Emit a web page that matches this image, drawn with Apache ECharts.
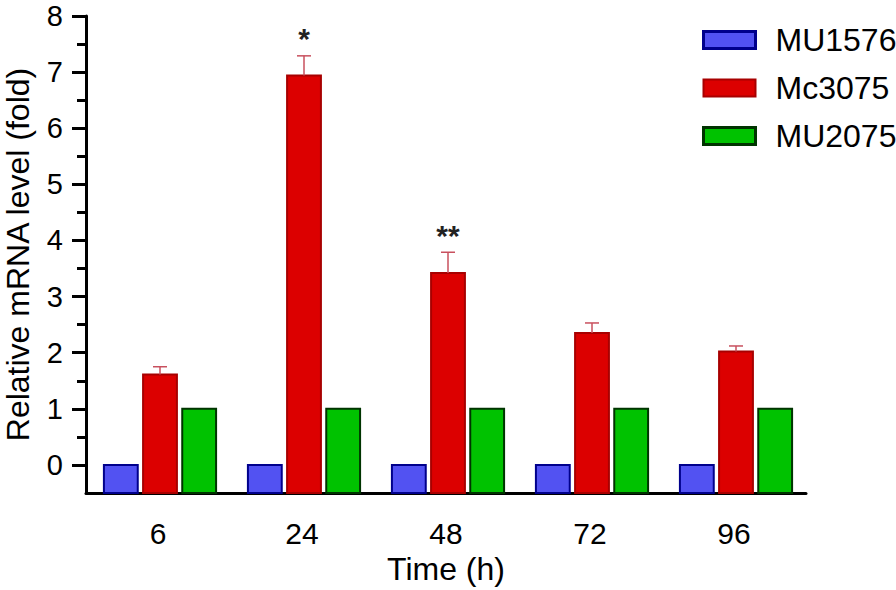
<!DOCTYPE html>
<html>
<head>
<meta charset="utf-8">
<script src="https://cdn.jsdelivr.net/npm/echarts@6/dist/echarts.min.js"></script>
<style>
  html, body { margin: 0; padding: 0; background: #fff; }
  #chart { width: 896px; height: 590px; }
</style>
</head>
<body>
<div id="chart"></div>
<script>
// ====== Relative mRNA level over time ======
var times = ['6', '24', '48', '72', '96'];
var mu1576 = [0, 0, 0, 0, 0];
var mc3075 = [1.61, 6.94, 3.42, 2.35, 2.02];
var mc3075Err = [0.14, 0.35, 0.37, 0.18, 0.10];
var mu2075 = [1, 1, 1, 1, 1];
var marks = ['', '*', '**', '', ''];

var yTicks = [0, 1, 2, 3, 4, 5, 6, 7, 8];
var yMinorTicks = [0.5, 1.5, 2.5, 3.5, 4.5, 5.5, 6.5, 7.5];

(function() {
  var font = "'Liberation Sans', Arial, sans-serif";
  var yMin = -0.5, yMax = 8;
  var chart = echarts.init(document.getElementById('chart'), null, { renderer: 'svg' });

  // bars start at the bottom of the axis (yMin), not at 0
  function barRender(slot, fill, stroke) {
    return function(params, api) {
      var x = api.value(0);
      var top = api.coord([x, api.value(1)]);
      var base = api.coord([x, yMin]);
      var band = api.size([1, 0])[0];
      var w = band * 0.235;
      var cx = top[0] + 2 + slot * band * 0.272;
      return {
        type: 'rect',
        shape: { x: cx - w / 2, y: top[1], width: w, height: base[1] - top[1] },
        style: { fill: fill, stroke: stroke, lineWidth: 2 }
      };
    };
  }

  function errRender(params, api) {
    var i = params.dataIndex;
    var x = api.value(0);
    var lo = api.coord([x, api.value(1)]);
    var hi = api.coord([x, api.value(1) + api.value(2)]);
    var cx = lo[0] + 2;
    var cap = 7;
    var children = [
      { type: 'line', shape: { x1: cx, y1: lo[1], x2: cx, y2: hi[1] },
        style: { stroke: '#c8505e', lineWidth: 1.5 } },
      { type: 'line', shape: { x1: cx - cap, y1: hi[1], x2: cx + cap, y2: hi[1] },
        style: { stroke: '#c8505e', lineWidth: 1.5 } }
    ];
    if (marks[i]) {
      children.push({
        type: 'text',
        style: {
          x: cx, y: hi[1] - 2, text: marks[i],
          fill: '#222', font: 'bold 30px ' + font,
          textAlign: 'center', textVerticalAlign: 'bottom'
        }
      });
    }
    return { type: 'group', children: children };
  }

  function toData(arr) {
    return arr.map(function(v, i) { return [i, v]; });
  }

  var colors = {
    blue: { fill: '#5252f2', stroke: '#00008c' },
    red: { fill: '#dc0000', stroke: '#a80000' },
    green: { fill: '#00c200', stroke: '#003400' }
  };

  chart.setOption({
    animation: false,
    textStyle: { fontFamily: font },
    legend: {
      orient: 'vertical',
      left: 697, top: 19,
      itemWidth: 52, itemHeight: 17,
      itemGap: 16,
      icon: 'rect',
      textStyle: { color: '#000', fontSize: 32, fontFamily: font, padding: [0, 0, 0, 15] },
      data: [
        { name: 'MU1576', itemStyle: { color: colors.blue.fill, borderColor: colors.blue.stroke, borderWidth: 3 } },
        { name: 'Mc3075', itemStyle: { color: colors.red.fill, borderColor: colors.red.stroke, borderWidth: 2 } },
        { name: 'MU2075', itemStyle: { color: colors.green.fill, borderColor: colors.green.stroke, borderWidth: 3 } }
      ]
    },
    grid: { left: 86, right: 90, top: 16, bottom: 97, containLabel: false, outerBoundsMode: 'none' },
    xAxis: {
      type: 'category',
      data: times,
      name: 'Time (h)',
      nameLocation: 'middle',
      nameGap: 60,
      nameTextStyle: { color: '#000', fontSize: 32, fontFamily: font },
      axisLine: { onZero: false, lineStyle: { color: '#000', width: 3 } },
      axisTick: { alignWithLabel: true, length: 20, lineStyle: { color: '#000', width: 3 } },
      axisLabel: { color: '#000', fontSize: 30, fontFamily: font, margin: 25 }
    },
    yAxis: [
      {
        type: 'value',
        min: yMin, max: yMax, interval: 0.5,
        name: 'Relative mRNA level (fold)',
        nameLocation: 'middle',
        nameGap: 52,
        nameTextStyle: { color: '#000', fontSize: 32, fontFamily: font },
        axisLine: { show: true, lineStyle: { color: '#000', width: 3 } },
        axisTick: { show: true, length: 14, customValues: yTicks, lineStyle: { color: '#000', width: 3 } },
        axisLabel: { color: '#000', fontSize: 29, lineHeight: 24, fontFamily: font, margin: 23, customValues: yTicks },
        splitLine: { show: false }
      },
      {
        type: 'value',
        position: 'left',
        min: yMin, max: yMax, interval: 0.5,
        axisLine: { show: false },
        axisTick: { show: true, length: 9, customValues: yMinorTicks, lineStyle: { color: '#000', width: 3 } },
        axisLabel: { show: false },
        splitLine: { show: false }
      }
    ],
    series: [
      {
        name: 'MU1576', type: 'custom',
        renderItem: barRender(-1, colors.blue.fill, colors.blue.stroke),
        itemStyle: { color: colors.blue.fill },
        encode: { x: 0, y: 1 },
        data: toData(mu1576)
      },
      {
        name: 'Mc3075', type: 'custom',
        renderItem: barRender(0, colors.red.fill, colors.red.stroke),
        itemStyle: { color: colors.red.fill },
        encode: { x: 0, y: 1 },
        data: toData(mc3075)
      },
      {
        name: 'MU2075', type: 'custom',
        renderItem: barRender(1, colors.green.fill, colors.green.stroke),
        itemStyle: { color: colors.green.fill },
        encode: { x: 0, y: 1 },
        data: toData(mu2075)
      },
      {
        name: 'Mc3075 error', type: 'custom',
        renderItem: errRender,
        encode: { x: 0, y: [1, 2] },
        z: 3,
        data: mc3075.map(function(v, i) { return [i, v, mc3075Err[i]]; })
      }
    ]
  });

  window.addEventListener('resize', function() { chart.resize(); });
})();
</script>
</body>
</html>
